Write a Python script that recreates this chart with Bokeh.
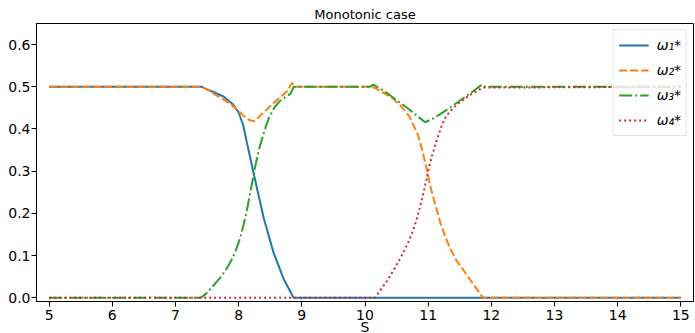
from bokeh.plotting import figure
from bokeh.models import Range1d, FixedTicker, NumeralTickFormatter, Legend, LegendItem
from bokeh.embed import file_html
from bokeh.resources import INLINE

# ---- data ----
x1 = [5.0, 7.42, 7.5, 7.61, 7.76, 7.9, 8.0, 8.07, 8.13, 8.2, 8.28, 8.4, 8.55, 8.71, 8.87, 15.0]
y1 = [0.5, 0.5, 0.494, 0.487, 0.477, 0.46, 0.439, 0.41, 0.368, 0.32, 0.266, 0.187, 0.108, 0.045, 0.0, 0.0]

x2 = [5.0, 7.42, 7.5, 7.61, 7.76, 7.87, 8.0, 8.08, 8.16, 8.24, 8.33, 8.45, 8.56, 8.66, 8.77, 8.845, 8.9,
      10.08, 10.16, 10.24, 10.35, 10.45, 10.55, 10.61, 10.7, 10.77, 10.84, 10.9, 10.97, 11.03, 11.11,
      11.19, 11.27, 11.35, 11.45, 11.56, 11.7, 11.87, 15.0]
y2 = [0.5, 0.5, 0.494, 0.483, 0.47, 0.459, 0.442, 0.431, 0.422, 0.418, 0.43, 0.447, 0.462, 0.475, 0.49, 0.509, 0.5,
      0.5, 0.497, 0.49, 0.481, 0.471, 0.457, 0.447, 0.43, 0.408, 0.385, 0.353, 0.31, 0.266, 0.222,
      0.179, 0.145, 0.116, 0.088, 0.065, 0.035, 0.0, 0.0]

x3 = [5.0, 7.40, 7.48, 7.55, 7.63, 7.7, 7.76, 7.83, 7.9, 7.97, 8.03, 8.08, 8.13, 8.2, 8.26, 8.32, 8.4, 8.48, 8.57,
      8.66, 8.75, 8.82, 8.87,
      10.08, 10.13, 10.25, 10.37, 10.5, 10.66, 10.8, 10.95, 11.07, 11.19, 11.35, 11.5, 11.68, 11.85, 11.9, 15.0]
y3 = [0.0, 0.0, 0.009, 0.02, 0.034, 0.046, 0.058, 0.074, 0.093, 0.118, 0.145, 0.174, 0.207, 0.262, 0.31, 0.35,
      0.392, 0.427, 0.452, 0.467, 0.477, 0.483, 0.5,
      0.5, 0.505, 0.495, 0.483, 0.468, 0.451, 0.434, 0.416, 0.424, 0.435, 0.451, 0.467, 0.486, 0.505, 0.5, 0.5]

x4 = [5.0, 10.16, 10.24, 10.35, 10.45, 10.53, 10.61, 10.68, 10.74, 10.8, 10.85, 10.9, 10.94, 11.03, 11.14,
      11.22, 11.29, 11.4, 11.5, 11.68, 11.87, 15.0]
y4 = [0.0, 0.0, 0.017, 0.04, 0.065, 0.086, 0.108, 0.13, 0.151, 0.177, 0.203, 0.232, 0.258, 0.32, 0.376,
      0.41, 0.432, 0.45, 0.463, 0.482, 0.498, 0.5]

labels = ["ω₁*", "ω₂*", "ω₃*", "ω₄*"]
x_ticks = [5, 6, 7, 8, 9, 10, 11, 12, 13, 14, 15]
y_ticks = [0.0, 0.1, 0.2, 0.3, 0.4, 0.5, 0.6]

FONT = "DejaVu Sans"

p = figure(frame_width=657, frame_height=278, output_backend="svg", toolbar_location=None,
           x_range=Range1d(4.8, 15.2), y_range=Range1d(-0.009, 0.65),
           title="Monotonic case", min_border_left=36, min_border_right=2,
           min_border_top=23, min_border_bottom=0)
p.background_fill_color = "white"
p.border_fill_color = "white"
p.outline_line_color = "black"
p.outline_line_width = 1
p.outline_line_alpha = 1
p.xgrid.visible = False
p.ygrid.visible = False

p.title.align = "center"
p.title.text_font = FONT
p.title.text_font_size = "13px"
p.title.text_font_style = "normal"
p.title.text_color = "black"
p.title.standoff = 4

for ax in (p.xaxis[0], p.yaxis[0]):
    ax.major_label_text_font = FONT
    ax.major_label_text_font_size = "14px"
    ax.major_label_text_color = "black"
    ax.axis_line_color = "black"
    ax.major_tick_line_color = "black"
    ax.major_tick_in = 0
    ax.major_tick_out = 5
    ax.minor_tick_line_color = None
    ax.axis_label_text_font = FONT
    ax.axis_label_text_font_size = "14px"
    ax.axis_label_text_font_style = "normal"
    ax.axis_label_text_color = "black"

p.xaxis.ticker = FixedTicker(ticks=x_ticks)
p.yaxis.ticker = FixedTicker(ticks=y_ticks)
p.yaxis.formatter = NumeralTickFormatter(format="0.0")
p.yaxis.major_label_standoff = 1
p.xaxis.major_label_standoff = 3
p.xaxis.axis_label = "S"
p.xaxis.axis_label_standoff = -4

colors = ["#1f77b4", "#ff7f0e", "#2ca02c", "#d62728"]
dashes = ["solid", "8 3", "13 3 2 3", "2 3"]
xs = [x1, x2, x3, x4]
ys = [y1, y2, y3, y4]

renderers = []
for xx, yy, c, d in zip(xs, ys, colors, dashes):
    r = p.line(xx, yy, line_color=c, line_width=2, line_dash=d)
    renderers.append(r)

legend = Legend(items=[LegendItem(label=lab, renderers=[r]) for lab, r in zip(labels, renderers)],
                location="top_right")
legend.margin = 6
legend.padding = 5
legend.spacing = 5
legend.glyph_width = 30
legend.glyph_height = 20
legend.label_height = 20
legend.label_standoff = 8
legend.label_text_font = FONT
legend.label_text_font_size = "14px"
legend.label_text_font_style = "italic"
legend.label_text_color = "black"
legend.border_line_color = "#cccccc"
legend.border_line_width = 1
legend.background_fill_color = "white"
legend.background_fill_alpha = 0.8
p.add_layout(legend, "center")

open("out.html", "w").write(file_html(p, INLINE))
